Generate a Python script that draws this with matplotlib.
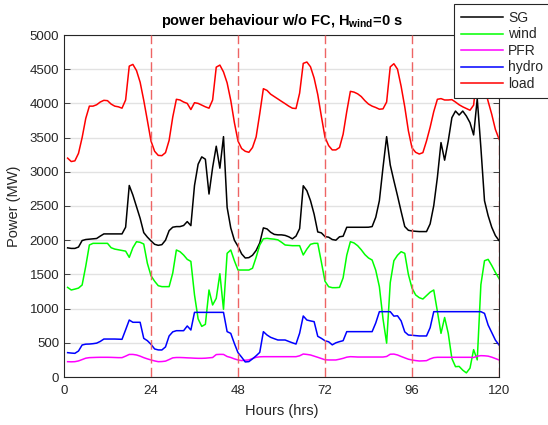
import numpy as np
import matplotlib
matplotlib.use("Agg")
import matplotlib.pyplot as plt

# Hourly power values (MW), hours 1..120
hours = np.arange(1, 121)

sg = [1888, 1880, 1880, 1900, 1995, 2010, 2015, 2020, 2025, 2060, 2092, 2092,
      2092, 2092, 2092, 2092, 2190, 2800, 2660, 2490, 2320, 2111, 2045, 1990,
      1940, 1925, 1935, 2000, 2140, 2190, 2199, 2199, 2215, 2272, 2213, 2800,
      3111, 3218, 3184, 2675, 3063, 3374, 3053, 3514, 2480, 2180, 2000, 1910,
      1800, 1740, 1745, 1780, 1850, 1960, 2180, 2165, 2116, 2085, 2078, 2078,
      2070, 2050, 2020, 2060, 2170, 2796, 2723, 2578, 2380, 2121, 2107, 2053,
      2044, 2010, 2000, 2050, 2058, 2189, 2189, 2189, 2189, 2189, 2189, 2190,
      2199, 2335, 2578, 3063, 3514, 3100, 2870, 2650, 2420, 2200, 2145, 2135,
      2130, 2126, 2126, 2126, 2238, 2505, 2917, 3427, 3170, 3451, 3791, 3888,
      3830, 3888, 3815, 3718, 3539, 4068, 3354, 2577, 2359, 2189, 2068, 1995]

wind = [1310, 1272, 1285, 1300, 1345, 1620, 1930, 1954, 1954, 1954, 1954, 1954,
        1890, 1870, 1860, 1850, 1840, 1749, 1890, 1978, 1969, 1944, 1662, 1480,
        1400, 1335, 1321, 1321, 1321, 1520, 1857, 1832, 1783, 1720, 1690, 1200,
        850, 740, 770, 1272, 1053, 1150, 1510, 990, 1808, 1857, 1700, 1564,
        1564, 1564, 1564, 1590, 1750, 1930, 2020, 2027, 2020, 2015, 2005, 1970,
        1930, 1925, 1920, 1920, 1920, 1784, 1870, 1940, 1954, 1954, 1680, 1400,
        1320, 1306, 1306, 1310, 1450, 1780, 1978, 1960, 1920, 1860, 1790, 1740,
        1710, 1560, 1320, 850, 495, 1380, 1700, 1780, 1832, 1808, 1500, 1300,
        1200, 1160, 1140, 1190, 1240, 1272, 960, 638, 870, 638, 270, 151,
        155, 100, 60, 130, 400, 250, 1350, 1700, 1720, 1630, 1530, 1440]

pfr = [224, 222, 224, 235, 255, 275, 283, 285, 287, 288, 288, 288,
       287, 285, 283, 283, 305, 330, 330, 322, 305, 283, 265, 249,
       235, 224, 226, 232, 255, 280, 285, 285, 283, 280, 278, 275,
       273, 273, 275, 280, 285, 328, 331, 330, 300, 285, 265, 249,
       240, 245, 250, 270, 288, 295, 297, 297, 297, 297, 297, 297,
       297, 297, 297, 297, 310, 336, 330, 322, 305, 288, 270, 252,
       249, 249, 249, 260, 273, 290, 297, 295, 292, 292, 292, 292,
       292, 292, 292, 292, 300, 333, 335, 322, 300, 280, 260, 249,
       240, 234, 236, 239, 265, 283, 288, 288, 288, 288, 288, 288,
       288, 288, 288, 288, 285, 305, 312, 310, 305, 290, 270, 249]

hydro = [356, 350, 346, 380, 468, 480, 482, 487, 495, 520, 555, 555,
         555, 555, 553, 551, 690, 833, 800, 800, 800, 565, 531, 478,
         410, 396, 395, 440, 600, 660, 677, 677, 677, 746, 687, 945,
         945, 945, 945, 945, 945, 945, 945, 945, 663, 638, 490, 356,
         290, 220, 225, 265, 310, 360, 663, 614, 580, 560, 541, 541,
         541, 520, 500, 482, 640, 892, 833, 820, 809, 595, 565, 530,
         515, 470, 500, 517, 531, 663, 663, 663, 663, 663, 663, 663,
         663, 790, 955, 955, 955, 955, 890, 895, 820, 660, 614, 610,
         605, 600, 600, 600, 720, 955, 955, 955, 955, 955, 955, 955,
         955, 955, 955, 955, 955, 955, 955, 930, 760, 650, 540, 468]

load = [3200, 3150, 3160, 3270, 3500, 3780, 3960, 3960, 3980, 4020, 4045, 4040,
        3990, 3960, 3950, 3930, 4050, 4545, 4570, 4480, 4310, 4045, 3750, 3450,
        3300, 3240, 3236, 3280, 3460, 3800, 4060, 4050, 4020, 4000, 3910, 4010,
        4000, 3975, 3950, 3930, 4050, 4530, 4560, 4460, 4300, 4045, 3720, 3450,
        3340, 3300, 3285, 3355, 3510, 3850, 4215, 4190, 4135, 4100, 4065, 4030,
        3996, 3960, 3930, 3925, 4150, 4585, 4605, 4535, 4370, 4130, 3810, 3505,
        3383, 3320, 3320, 3355, 3550, 3880, 4176, 4165, 4140, 4100, 4040, 3990,
        3960, 3940, 3915, 3920, 4020, 4534, 4580, 4500, 4250, 3950, 3600, 3350,
        3285, 3260, 3280, 3450, 3650, 3880, 4060, 4070, 4050, 4050, 4055, 4020,
        3980, 3950, 3925, 3900, 3975, 4480, 4520, 4230, 4030, 3840, 3620, 3480]

series_names = ["SG", "wind", "PFR", "hydro", "load"]
series_colors = ["#000000", "#00ff00", "#ff00ff", "#0000ff", "#ff0000"]
day_marks = [24, 48, 72, 96, 120]
x_ticks = [0, 24, 48, 72, 96, 120]
y_ticks = np.arange(0, 5001, 500)

plt.rcParams['font.family'] = ['Liberation Sans', 'DejaVu Sans']
plt.rcParams['mathtext.fontset'] = 'custom'
plt.rcParams['mathtext.rm'] = 'Liberation Sans'
plt.rcParams['mathtext.bf'] = 'Liberation Sans:bold'

axis_color = '#262626'

fig = plt.figure(figsize=(5.48, 4.25), dpi=100)
ax = fig.add_axes([64 / 548, 48 / 425, 435 / 548, 342 / 425])

lines = []
for vals, name, col in zip([sg, wind, pfr, hydro, load], series_names, series_colors):
    ln, = ax.plot(hours, vals, color=col, lw=1.1, label=name, zorder=2)
    lines.append(ln)

for d in day_marks:
    ax.axvline(d, color='#ee6464', lw=1.0, dashes=(7, 3), zorder=3)

ax.set_xlim(0, 120)
ax.set_ylim(0, 5000)
ax.set_xticks(x_ticks)
ax.set_yticks(y_ticks)
ax.yaxis.grid(True, color='#e2e2e2', lw=1.0)
ax.set_axisbelow(True)
ax.tick_params(direction='in', top=True, right=True, length=4, width=0.6,
               colors=axis_color, labelsize=9.5, labelcolor=axis_color)
ax.tick_params(axis='x', pad=6)
for sp in ax.spines.values():
    sp.set_color(axis_color)
    sp.set_linewidth(0.8)

ax.set_xlabel('Hours (hrs)', fontsize=10.5, color=axis_color, labelpad=5)
ax.set_ylabel('Power (MW)', fontsize=10.5, color=axis_color, labelpad=6)
ax.set_title(r'power behaviour w/o FC, H$_{\mathbf{wind}}$=0 s',
             fontweight='bold', fontsize=10.5, pad=7)

leg = fig.legend(handles=lines, loc='upper left',
                 bbox_to_anchor=(454 / 548, 1 - 4 / 425), borderaxespad=0,
                 fontsize=10, handlelength=3.0, handletextpad=0.4,
                 labelspacing=0.18, borderpad=0.5, fancybox=False,
                 framealpha=1, edgecolor=axis_color)
leg.get_frame().set_linewidth(0.8)
for t in leg.get_texts():
    t.set_color(axis_color)

fig.savefig('out.png', dpi=100)
